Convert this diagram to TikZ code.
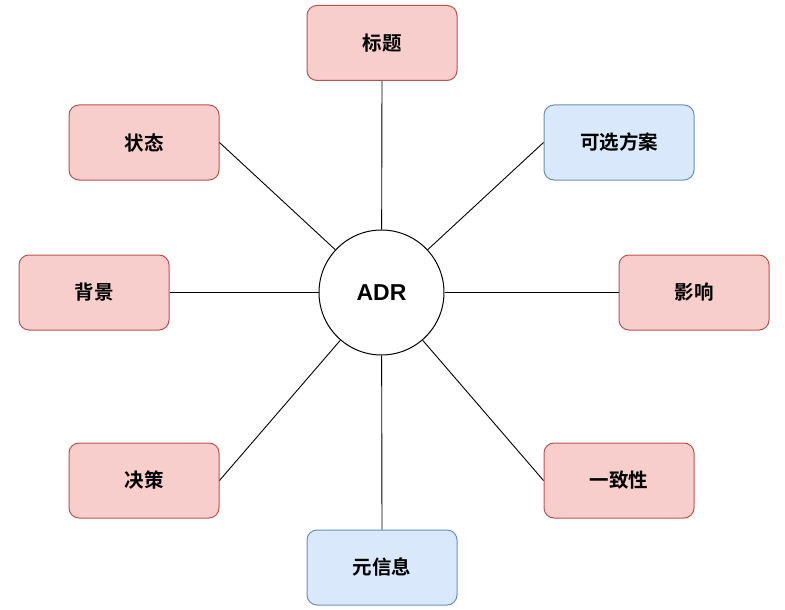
\documentclass[tikz,border=0pt]{standalone}
\usepackage{fontspec}
\setmainfont{Liberation Sans}
\newfontfamily\cjk{Noto Sans CJK SC}[BoldFont={Noto Sans CJK SC Bold}]
\begin{document}
\begin{tikzpicture}[x=1pt,y=-1pt,
  redbox/.style={draw={rgb,255:red,184;green,84;blue,80}, fill={rgb,255:red,248;green,206;blue,204}, rounded corners=10pt, minimum width=150pt, minimum height=75pt, inner sep=0pt, line width=1pt, font=\cjk\bfseries\fontsize{19.5}{23}\selectfont},
  bluebox/.style={redbox, draw={rgb,255:red,108;green,142;blue,191}, fill={rgb,255:red,218;green,232;blue,252}},
  hub/.style={circle, draw=black, fill=white, minimum size=125pt, inner sep=0pt, line width=1pt, font=\bfseries\fontsize{23}{27}\selectfont},
  link/.style={draw=black, line width=0.9pt}]
\useasboundingbox (0,0) rectangle (785,610);
\node[hub] (c) at (381.5,292.5) {ADR};
\node[redbox] (t) at (382,43) {标题};
\node[bluebox] (k) at (619,142.5) {可选方案};
\node[redbox] (y) at (694,292.5) {影响};
\node[redbox] (z) at (619,480.5) {一致性};
\node[bluebox] (m) at (382,567.5) {元信息};
\node[redbox] (j) at (144,480.5) {决策};
\node[redbox] (b) at (94,292.5) {背景};
\node[redbox] (s) at (144,142.5) {状态};
\draw[link] (t.south) -- (c);
\draw[link] (k.west) -- (c);
\draw[link] (y.west) -- (c);
\draw[link] (z.west) -- (c);
\draw[link] (m.north) -- (c);
\draw[link] (j.east) -- (c);
\draw[link] (b.east) -- (c);
\draw[link] (s.east) -- (c);
\end{tikzpicture}
\end{document}
